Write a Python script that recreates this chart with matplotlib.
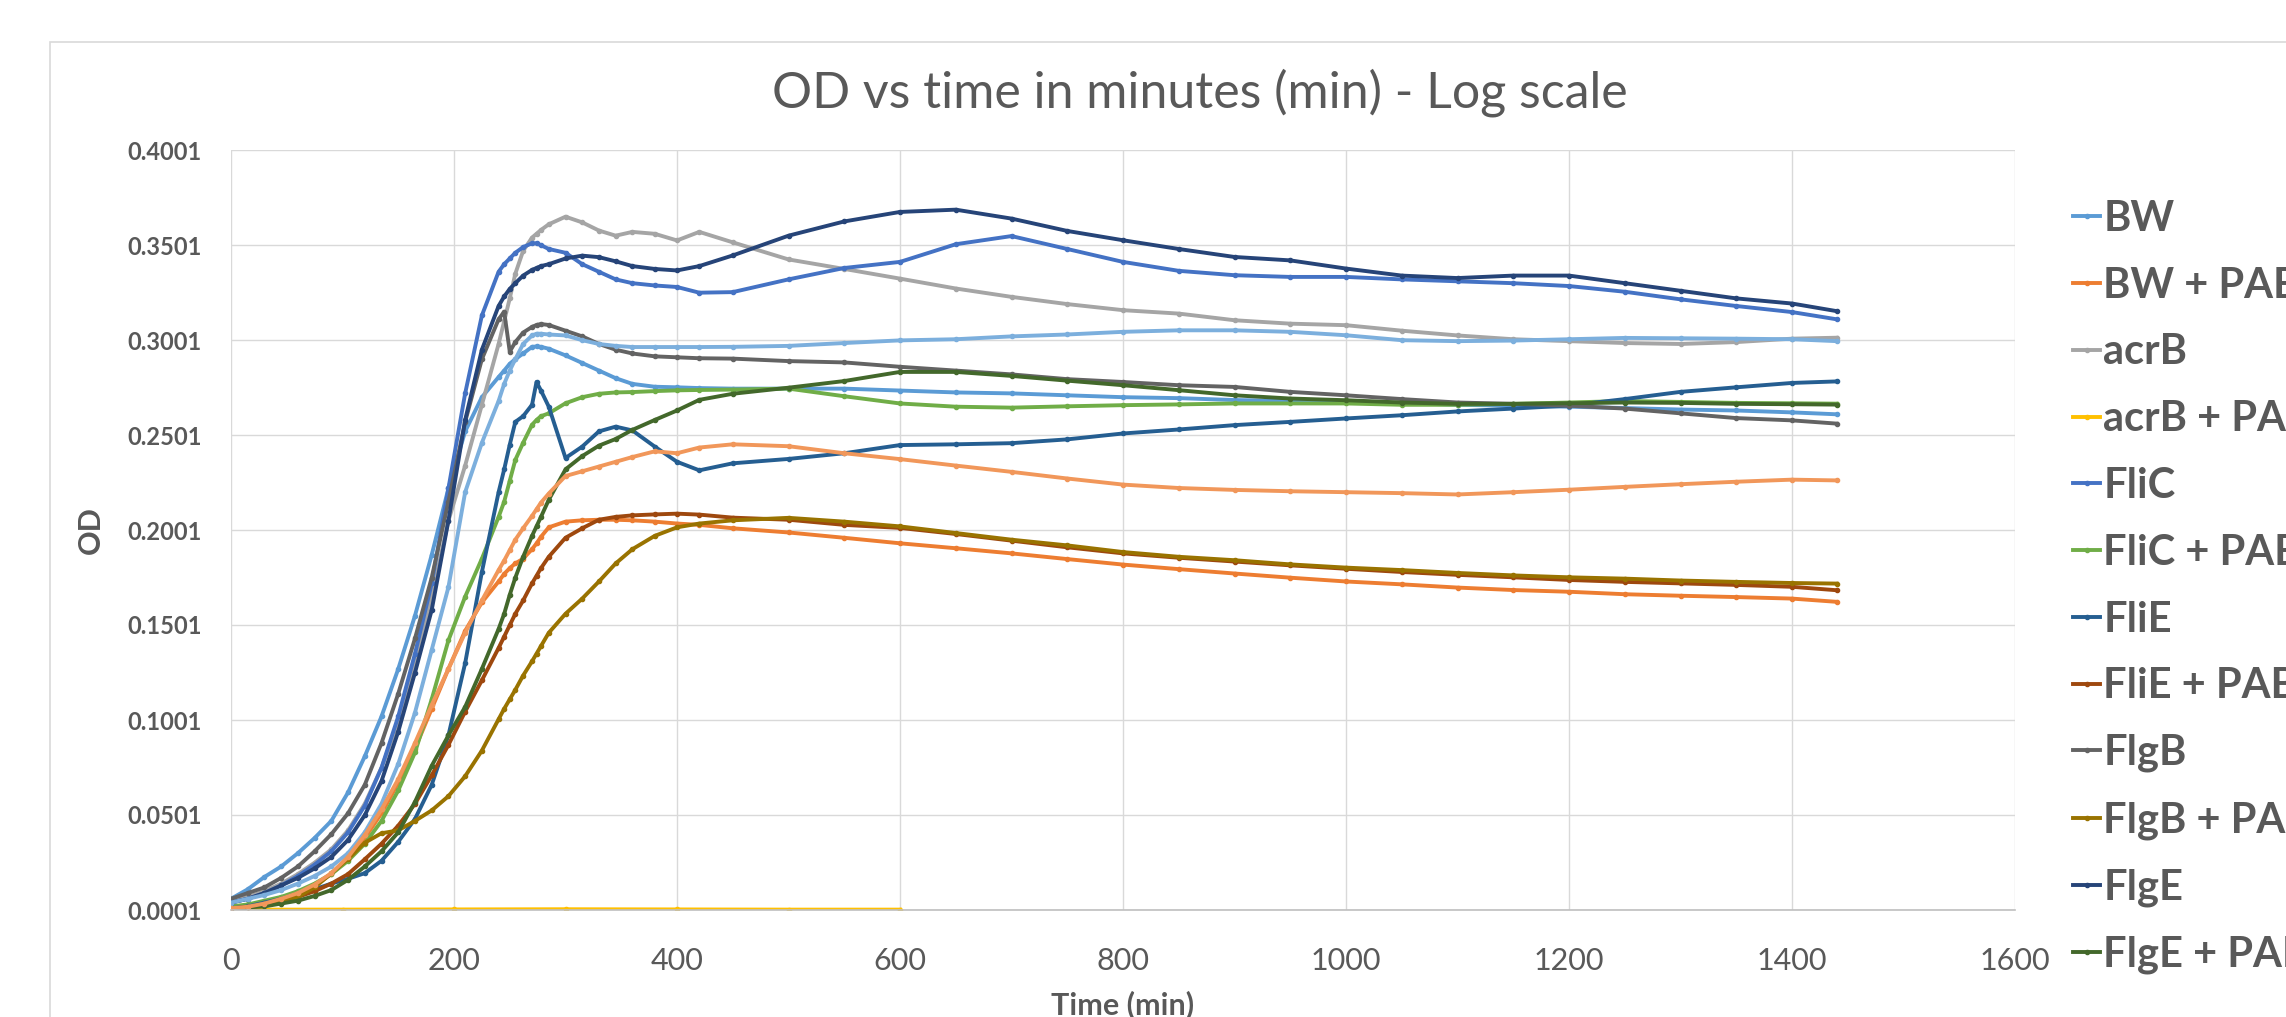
import numpy as np
import matplotlib
matplotlib.use("Agg")
import matplotlib.pyplot as plt
from matplotlib.patches import Rectangle

# sampling times (min)
time = [0, 15, 30, 45, 60, 75, 90, 105, 120, 135, 150, 165, 180, 195, 210, 225, 240,
        245, 250, 255, 262, 270, 274, 278, 285,
        300, 315, 330, 345, 360,
        380, 400, 420, 450,
        500, 550, 600, 650, 700, 750, 800, 850, 900, 950, 1000, 1050, 1100, 1150,
        1200, 1250, 1300, 1350, 1400,
        1440]

bw = [0.006, 0.011, 0.0175, 0.023, 0.030, 0.038, 0.047, 0.062, 0.081, 0.102, 0.127, 0.155, 0.187, 0.222, 0.252, 0.270, 0.2806,
      0.284, 0.2876, 0.290, 0.293, 0.2965, 0.2967, 0.2965, 0.2955,
      0.292, 0.288, 0.284, 0.280, 0.277,
      0.2755, 0.2752, 0.2748, 0.2745,
      0.2745, 0.2745, 0.2735, 0.2725, 0.272, 0.271, 0.270, 0.2695, 0.2685, 0.268, 0.2675, 0.267, 0.266, 0.2655,
      0.265, 0.2643, 0.2635, 0.263, 0.262,
      0.261]

bw_pab = [0.001, 0.002, 0.004, 0.006, 0.009, 0.013, 0.019, 0.027, 0.038, 0.051, 0.067, 0.085, 0.106, 0.127, 0.147, 0.162, 0.173,
          0.177, 0.180, 0.1825, 0.185, 0.190, 0.193, 0.1965, 0.2015,
          0.2045, 0.2052, 0.2055, 0.2055, 0.2052,
          0.2045, 0.2035, 0.2028, 0.201,
          0.1988, 0.196, 0.1931, 0.1905, 0.1878, 0.1848, 0.1819, 0.1795, 0.1772, 0.175, 0.173, 0.1715, 0.1698, 0.1685,
          0.1676, 0.1663, 0.1655, 0.1648, 0.164,
          0.1623]

acrb = [0.005, 0.007, 0.010, 0.014, 0.019, 0.025, 0.032, 0.042, 0.056, 0.075, 0.099, 0.130, 0.165, 0.205, 0.234, 0.266, 0.298,
        0.310, 0.322, 0.335, 0.347, 0.354, 0.356, 0.358, 0.361,
        0.365, 0.362, 0.3577, 0.355, 0.357,
        0.356, 0.3525, 0.357, 0.3515,
        0.3425, 0.3375, 0.3324, 0.3272, 0.3228, 0.319, 0.3158, 0.314, 0.3105, 0.3087, 0.3079, 0.305, 0.3025, 0.3005,
        0.2995, 0.2985, 0.298, 0.299, 0.3008,
        0.3013]

# acrB + PAB stays on the baseline and is only visible up to ~600 min
acrb_pab_time = [0, 100, 200, 300, 400, 500, 600]
acrb_pab = [0.0003, 0.0003, 0.0004, 0.0005, 0.0004, 0.0003, 0.0003]

flic = [0.004, 0.006, 0.009, 0.013, 0.018, 0.024, 0.031, 0.041, 0.055, 0.075, 0.102, 0.135, 0.172, 0.222, 0.272, 0.313, 0.336,
        0.340, 0.343, 0.346, 0.349, 0.351, 0.351, 0.350, 0.348,
        0.346, 0.340, 0.336, 0.332, 0.330,
        0.3288, 0.328, 0.325, 0.3253,
        0.332, 0.338, 0.3412, 0.3505, 0.3548, 0.348, 0.3412, 0.3365, 0.3342, 0.3333, 0.3333, 0.332, 0.331, 0.330,
        0.3285, 0.3255, 0.3215, 0.318, 0.3148,
        0.311]

flic_pab = [0.002, 0.003, 0.005, 0.007, 0.010, 0.014, 0.019, 0.026, 0.035, 0.047, 0.063, 0.083, 0.111, 0.142, 0.165, 0.185, 0.207,
            0.215, 0.226, 0.237, 0.246, 0.2555, 0.258, 0.260, 0.2615,
            0.2668, 0.270, 0.2718, 0.2725, 0.2727,
            0.2732, 0.2736, 0.2738, 0.274,
            0.2745, 0.2705, 0.2667, 0.265, 0.2645, 0.2652, 0.2658, 0.2662, 0.2667, 0.2667, 0.2667, 0.266, 0.266, 0.2665,
            0.2672, 0.268, 0.2675, 0.267, 0.2668,
            0.2666]

flie = [0.001, 0.002, 0.004, 0.006, 0.0088, 0.011, 0.014, 0.0165, 0.0195, 0.026, 0.036, 0.048, 0.066, 0.092, 0.130, 0.178, 0.220,
        0.232, 0.245, 0.257, 0.260, 0.266, 0.278, 0.2735, 0.265,
        0.238, 0.244, 0.252, 0.2545, 0.2525,
        0.244, 0.236, 0.2315, 0.2352,
        0.2375, 0.2405, 0.2448, 0.2452, 0.2458, 0.2478, 0.2509, 0.253, 0.2553, 0.257, 0.2588, 0.2605, 0.2625, 0.264,
        0.2656, 0.269, 0.2728, 0.2752, 0.2775,
        0.2783]

flie_pab = [0.001, 0.0015, 0.0027, 0.0045, 0.007, 0.010, 0.014, 0.019, 0.0268, 0.035, 0.0445, 0.056, 0.071, 0.087, 0.1045, 0.121, 0.138,
            0.144, 0.150, 0.156, 0.163, 0.172, 0.176, 0.180, 0.186,
            0.196, 0.201, 0.2055, 0.207, 0.2078,
            0.2083, 0.2087, 0.2082, 0.2066,
            0.2055, 0.2028, 0.2012, 0.198, 0.1945, 0.191, 0.1878, 0.1855, 0.1835, 0.1815, 0.1797, 0.178, 0.1765, 0.1752,
            0.1738, 0.1728, 0.172, 0.1712, 0.1702,
            0.1684]

flgb = [0.006, 0.009, 0.012, 0.017, 0.023, 0.031, 0.040, 0.051, 0.066, 0.088, 0.114, 0.143, 0.175, 0.215, 0.257, 0.290, 0.311,
        0.315, 0.294, 0.299, 0.304, 0.307, 0.308, 0.3085, 0.308,
        0.305, 0.302, 0.298, 0.295, 0.293,
        0.2915, 0.291, 0.2905, 0.2903,
        0.289, 0.2883, 0.286, 0.284, 0.282, 0.2795, 0.278, 0.2763, 0.2754, 0.2728, 0.271, 0.269, 0.2672, 0.2665,
        0.2655, 0.264, 0.2615, 0.259, 0.2578,
        0.2561]

flgb_pab = [0.001, 0.0015, 0.003, 0.0045, 0.007, 0.012, 0.0194, 0.027, 0.0355, 0.0405, 0.042, 0.047, 0.0525, 0.060, 0.0705, 0.084, 0.1005,
            0.106, 0.111, 0.116, 0.1235, 0.131, 0.135, 0.139, 0.146,
            0.156, 0.164, 0.173, 0.1825, 0.190,
            0.197, 0.2015, 0.2035, 0.2052,
            0.2065, 0.2045, 0.202, 0.1985, 0.195, 0.192, 0.1885, 0.186, 0.1842, 0.182, 0.1803, 0.179, 0.1775, 0.1762,
            0.1752, 0.1745, 0.1735, 0.1728, 0.1722,
            0.1719]

flge = [0.004, 0.006, 0.009, 0.013, 0.017, 0.022, 0.028, 0.037, 0.050, 0.068, 0.094, 0.125, 0.158, 0.205, 0.258, 0.295, 0.318,
        0.323, 0.327, 0.330, 0.334, 0.337, 0.338, 0.339, 0.340,
        0.343, 0.3445, 0.3437, 0.3415, 0.339,
        0.3375, 0.3367, 0.339, 0.3446,
        0.355, 0.3625, 0.3675, 0.3687, 0.364, 0.3575, 0.3526, 0.348, 0.3438, 0.342, 0.3377, 0.334, 0.3327, 0.334,
        0.334, 0.330, 0.326, 0.322, 0.3193,
        0.3153]

flge_pab = [0.001, 0.0015, 0.002, 0.0035, 0.005, 0.0075, 0.0106, 0.016, 0.023, 0.031, 0.041, 0.057, 0.076, 0.092, 0.107, 0.127, 0.148,
            0.156, 0.166, 0.175, 0.186, 0.197, 0.202, 0.207, 0.216,
            0.232, 0.239, 0.2445, 0.248, 0.2528,
            0.258, 0.263, 0.2686, 0.2718,
            0.275, 0.2785, 0.2833, 0.2833, 0.2812, 0.2787, 0.2763, 0.2737, 0.271, 0.2693, 0.2684, 0.2672, 0.2665, 0.2665,
            0.2668, 0.2672, 0.267, 0.2665, 0.2663,
            0.2661]

# two more series are drawn, their legend entries are cut off in the original
extra_blue = [0.004, 0.006, 0.008, 0.0106, 0.014, 0.018, 0.023, 0.030, 0.041, 0.056, 0.077, 0.104, 0.137, 0.170, 0.220, 0.246, 0.268,
              0.277, 0.284, 0.290, 0.298, 0.3025, 0.3034, 0.3034, 0.303,
              0.3025, 0.300, 0.298, 0.297, 0.2964,
              0.2964, 0.2964, 0.2964, 0.2965,
              0.297, 0.2985, 0.2999, 0.3005, 0.302, 0.303, 0.3044, 0.3052, 0.3052, 0.3044, 0.3026, 0.300, 0.2995, 0.2998,
              0.3005, 0.3012, 0.301, 0.3008, 0.3005,
              0.2995]

extra_orange = [0.001, 0.0018, 0.0035, 0.006, 0.009, 0.0135, 0.0195, 0.028, 0.0395, 0.053, 0.069, 0.088, 0.108, 0.127, 0.146, 0.163, 0.179,
                0.184, 0.1895, 0.195, 0.201, 0.2075, 0.211, 0.2145, 0.2193,
                0.2285, 0.231, 0.2335, 0.236, 0.2385,
                0.2415, 0.2405, 0.2435, 0.2452,
                0.2442, 0.2405, 0.2374, 0.234, 0.2307, 0.2272, 0.224, 0.2222, 0.2212, 0.2205, 0.220, 0.2195, 0.2188, 0.220,
                0.2213, 0.2228, 0.2242, 0.2255, 0.2266,
                0.2262]

x_ticks = [0, 200, 400, 600, 800, 1000, 1200, 1400, 1600]
y_ticks = [0.0001, 0.0501, 0.1001, 0.1501, 0.2001, 0.2501, 0.3001, 0.3501, 0.4001]

series = [
    ("BW", time, bw, "#5B9BD5"),
    ("BW + PAB", time, bw_pab, "#ED7D31"),
    ("acrB", time, acrb, "#A5A5A5"),
    ("acrB + PAB", acrb_pab_time, acrb_pab, "#FFC000"),
    ("FliC", time, flic, "#4472C4"),
    ("FliC + PAB", time, flic_pab, "#70AD47"),
    ("FliE", time, flie, "#255E91"),
    ("FliE + PAB", time, flie_pab, "#9E480E"),
    ("FlgB", time, flgb, "#636363"),
    ("FlgB + PAB", time, flgb_pab, "#997300"),
    ("FlgE", time, flge, "#264478"),
    ("FlgE + PAB", time, flge_pab, "#43682B"),
    ("_nolegend_", time, extra_blue, "#7CAFDD"),
    ("_nolegend_", time, extra_orange, "#F1975A"),
]

W, H = 2286, 1017
txt = "#595959"
grid_c = "#D9D9D9"
font = ["Lato", "DejaVu Sans"]

fig = plt.figure(figsize=(W / 100, H / 100), dpi=100)
fig.patch.set_facecolor("white")

# chart area border (cropped on right/bottom)
fig.add_artist(Rectangle((50 / W, -0.2), 1.5, 1.2 - 42 / H,
                         transform=fig.transFigure, fill=False,
                         edgecolor=grid_c, linewidth=1.2))

ax = fig.add_axes([231 / W, 1 - 910 / H, (2015 - 231) / W, (910 - 150) / H])

for label, t, v, c in series:
    ax.plot(t, v, color=c, linewidth=2.8, marker="o", markersize=3,
            label=label, solid_joinstyle="round")

ax.set_xlim(0, 1600)
ax.set_ylim(0.0001, 0.4001)
ax.set_xticks(x_ticks)
ax.set_yticks(y_ticks)
ax.set_xticklabels([str(v) for v in x_ticks], fontsize=22, color=txt, family=font)
ax.set_yticklabels([f"{v:.4f}" for v in y_ticks], fontsize=17, color=txt,
                   family=font, fontweight="bold")
ax.tick_params(axis="both", length=0)
ax.tick_params(axis="x", pad=27)
ax.tick_params(axis="y", pad=21)
ax.grid(True, color=grid_c, linewidth=1.0)
ax.set_axisbelow(True)
for s in ["top", "right", "left"]:
    ax.spines[s].set_visible(False)
ax.spines["bottom"].set_color("#BFBFBF")
ax.spines["bottom"].set_linewidth(1.2)

fig.text(1200 / W, 1 - 108 / H, "OD vs time in minutes (min) - Log scale",
         ha="center", va="baseline", fontsize=36, color=txt, family=font)
fig.text(91 / W, 1 - 530 / H, "OD", rotation=90, ha="center", va="center",
         fontsize=22, color=txt, family=font, fontweight="bold")
fig.text(1123 / W, 1 - 1014 / H, "Time (min)", ha="center", va="baseline",
         fontsize=22, color=txt, family=font, fontweight="bold")

leg = ax.legend(loc="upper left", bbox_to_anchor=(2073 / W, 1 - 200 / H),
                bbox_transform=fig.transFigure, frameon=False,
                borderpad=0, borderaxespad=0, handlelength=0.65,
                handletextpad=0.08, labelspacing=0.69,
                prop={"family": font, "weight": "bold", "size": 30})
for t in leg.get_texts():
    t.set_color(txt)

fig.savefig("out.png", dpi=100)
